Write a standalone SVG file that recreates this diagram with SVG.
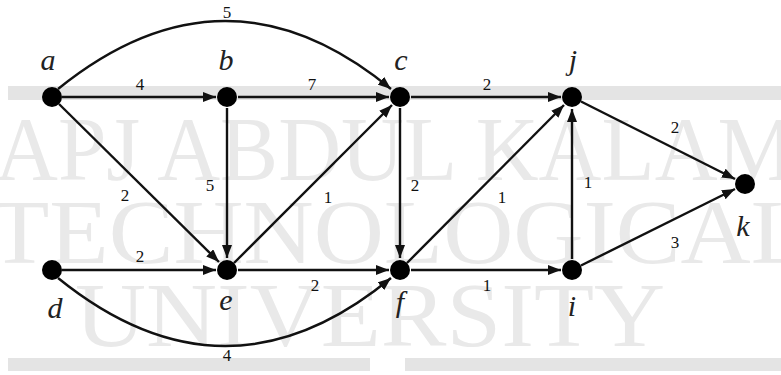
<svg xmlns="http://www.w3.org/2000/svg" width="781" height="375" viewBox="0 0 781 375">
<style>
.wm{font-family:"Liberation Serif","DejaVu Serif",serif;fill:#e9e9e9;}
.edge{stroke:#111;stroke-width:2.4;fill:none;marker-end:url(#arr);}
.node{fill:#000;}
.lbl{font-family:"Liberation Serif","DejaVu Serif",serif;font-style:italic;font-size:30px;fill:#222;text-anchor:middle;}
.w{font-family:"Liberation Serif","DejaVu Serif",serif;font-size:17px;fill:#111;text-anchor:middle;}
</style>
<defs>
<marker id="arr" markerUnits="userSpaceOnUse" markerWidth="14" markerHeight="10" refX="13" refY="5" orient="auto">
<path d="M0,0 L13,5 L0,10 z" fill="#111"/>
</marker>
</defs>
<rect width="781" height="375" fill="#fff"/>
<g id="watermark">
<rect x="8" y="86" width="773" height="14" fill="#e4e4e4"/>
<rect x="8" y="358" width="362" height="13" fill="#e4e4e4"/>
<rect x="405" y="358" width="376" height="13" fill="#e4e4e4"/>
<text class="wm" x="-5" y="180" font-size="92" textLength="800" lengthAdjust="spacingAndGlyphs">APJ ABDUL KALAM</text>
<text class="wm" x="-10" y="263" font-size="92" textLength="820" lengthAdjust="spacingAndGlyphs">TECHNOLOGICAL</text>
<text class="wm" x="75" y="346" font-size="92" textLength="590" lengthAdjust="spacingAndGlyphs">UNIVERSITY</text>
</g>
<g id="connectors">
<path class="edge" d="M58,89 Q226,-47 391,89"/>
<path class="edge" d="M62,97 L216,97"/>
<path class="edge" d="M238,97 L389,97"/>
<path class="edge" d="M411,97 L561,97"/>
<path class="edge" d="M59,104 L219,262"/>
<path class="edge" d="M227,108 L227,258"/>
<path class="edge" d="M234,263 L392,105"/>
<path class="edge" d="M400,108 L400,258"/>
<path class="edge" d="M407,263 L564,105"/>
<path class="edge" d="M572,259 L572,109"/>
<path class="edge" d="M581,101.5 L735,179"/>
<path class="edge" d="M581,265.5 L735,189"/>
<path class="edge" d="M62,270 L216,270"/>
<path class="edge" d="M238,270 L389,270"/>
<path class="edge" d="M411,270 L561,270"/>
<path class="edge" d="M58,278 Q226,414 391,278"/>
</g>
<g id="weights">
<text class="w" x="227" y="18">5</text>
<text class="w" x="140" y="90">4</text>
<text class="w" x="312" y="90">7</text>
<text class="w" x="487" y="90">2</text>
<text class="w" x="125" y="201">2</text>
<text class="w" x="210" y="191">5</text>
<text class="w" x="328" y="203">1</text>
<text class="w" x="415" y="191">2</text>
<text class="w" x="502" y="203">1</text>
<text class="w" x="588" y="188">1</text>
<text class="w" x="675" y="133">2</text>
<text class="w" x="675" y="248">3</text>
<text class="w" x="140" y="262">2</text>
<text class="w" x="315" y="291">2</text>
<text class="w" x="487" y="291">1</text>
<text class="w" x="227" y="361">4</text>
</g>
<g id="node-a"><circle class="node" cx="52" cy="97" r="10"/><text class="lbl" x="48" y="70">a</text></g>
<g id="node-b"><circle class="node" cx="227" cy="97" r="10"/><text class="lbl" x="226" y="70">b</text></g>
<g id="node-c"><circle class="node" cx="400" cy="97" r="10"/><text class="lbl" x="401" y="70">c</text></g>
<g id="node-j"><circle class="node" cx="572" cy="97" r="10"/><text class="lbl" x="573" y="70">j</text></g>
<g id="node-k"><circle class="node" cx="745" cy="184" r="10"/><text class="lbl" x="743" y="236">k</text></g>
<g id="node-d"><circle class="node" cx="52" cy="270" r="10"/><text class="lbl" x="55" y="318">d</text></g>
<g id="node-e"><circle class="node" cx="227" cy="270" r="10"/><text class="lbl" x="226" y="310">e</text></g>
<g id="node-f"><circle class="node" cx="400" cy="270" r="10"/><text class="lbl" x="400" y="312">f</text></g>
<g id="node-i"><circle class="node" cx="572" cy="270" r="10"/><text class="lbl" x="572" y="316">i</text></g>
</svg>
